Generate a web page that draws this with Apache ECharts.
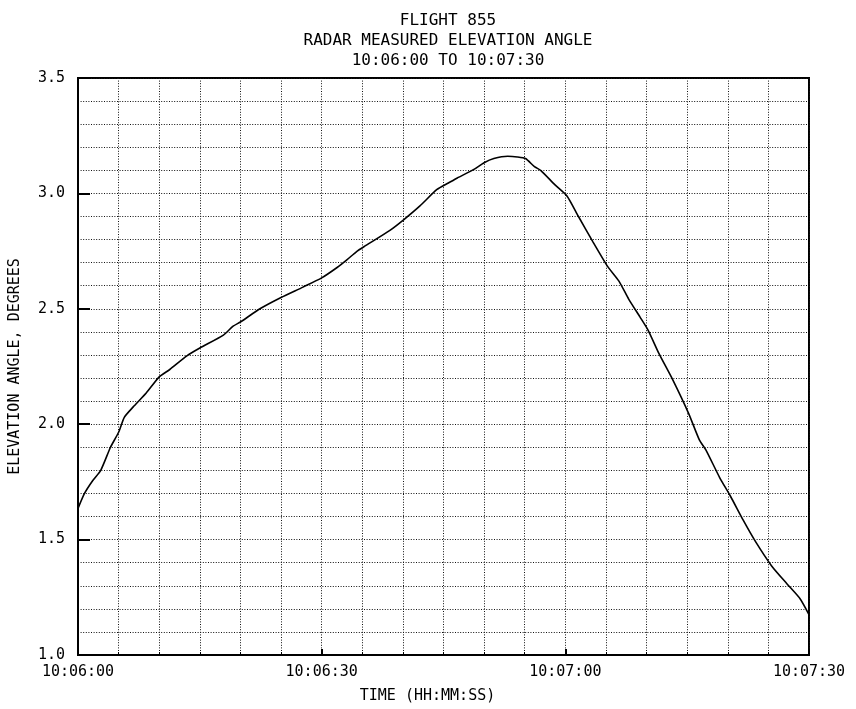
<!DOCTYPE html>
<html>
<head>
<meta charset="utf-8">
<script src="https://cdn.jsdelivr.net/npm/echarts@6/dist/echarts.min.js"></script>
<style>html,body{margin:0;padding:0;background:#fff}#c{width:856px;height:709px}</style>
</head>
<body>
<div id="c"></div>
<script>
// Time in seconds after 10:06:00
const timeSec = [0, 0.8, 1.8, 2.8, 4.0, 5.0, 5.7, 6.8, 8.4, 10.0, 11.3, 13.4, 15.0, 17.9, 19.1, 20.0,
  22.4, 25.0, 27.7, 30.0, 31.9, 33.1, 34.3, 35.2, 38.4, 40.2, 42.1, 44.2, 45.6, 46.7, 48.8, 50.0,
  51.2, 52.9, 54.1, 55.1, 56.2, 57.0, 58.7, 60.2, 61.6, 63.4, 65.2, 66.6, 67.8, 69.2, 70.2, 71.5,
  73.2, 75.2, 76.5, 77.3, 79.0, 80.3, 81.9, 83.4, 85.4, 87.3, 88.9, 90.0];
// Elevation angle, degrees
const elevation = [1.635, 1.70, 1.755, 1.80, 1.90, 1.965, 2.03, 2.075, 2.135, 2.205, 2.237, 2.296, 2.33, 2.386, 2.425, 2.443,
  2.50, 2.549, 2.594, 2.634, 2.679, 2.712, 2.748, 2.769, 2.84, 2.889, 2.946, 3.017, 3.045, 3.067, 3.105, 3.133,
  3.151, 3.161, 3.158, 3.151, 3.116, 3.099, 3.038, 2.989, 2.901, 2.79, 2.684, 2.62, 2.542, 2.464, 2.407, 2.308,
  2.194, 2.045, 1.932, 1.889, 1.769, 1.69, 1.584, 1.492, 1.386, 1.308, 1.244, 1.175];
const xTickSeconds = [0, 30, 60, 90];
const xTickLabels = ['10:06:00', '10:06:30', '10:07:00', '10:07:30'];
const titleLines = ['FLIGHT 855', 'RADAR MEASURED ELEVATION ANGLE', '10:06:00 TO 10:07:30'];

const FONT = 'DejaVu Sans Mono';
const dotted = { color: '#111', width: 1, type: [1, 1.6] };

const chart = echarts.init(document.getElementById('c'), null, { renderer: 'canvas' });
chart.setOption({
  animation: false,
  backgroundColor: '#fff',
  title: {
    text: titleLines.join('\n'),
    left: 443, top: 6, textAlign: 'center',
    textStyle: { fontFamily: FONT, fontSize: 16, fontWeight: 'normal', color: '#000', lineHeight: 20 }
  },
  grid: { left: 77, right: 47, top: 78, bottom: 50, show: true, borderColor: '#000', borderWidth: 2, backgroundColor: 'transparent' },
  xAxis: {
    type: 'value', min: 0, max: 90, interval: 30,
    name: 'TIME (HH:MM:SS)', nameLocation: 'middle', nameGap: 34,
    nameTextStyle: { fontFamily: FONT, fontSize: 15, color: '#000', padding: [0, 32, 0, 0] },
    axisLine: { show: true, lineStyle: { color: '#000', width: 2 } },
    axisTick: { show: true, inside: true, length: 6, lineStyle: { color: '#000', width: 2 } },
    minorTick: { show: true, splitNumber: 6, length: 3, lineStyle: { color: '#000' } },
    axisLabel: {
      margin: 10, fontFamily: FONT, fontSize: 15, color: '#000', showMinLabel: true, showMaxLabel: true,
      formatter: v => { const i = xTickSeconds.indexOf(v); return i >= 0 ? xTickLabels[i] : ''; }
    },
    splitLine: { show: true, lineStyle: dotted },
    minorSplitLine: { show: true, lineStyle: dotted }
  },
  yAxis: {
    type: 'value', min: 1.0, max: 3.5, interval: 0.5,
    name: 'ELEVATION ANGLE, DEGREES', nameLocation: 'middle', nameGap: 55, nameRotate: 90,
    nameTextStyle: { fontFamily: FONT, fontSize: 15, color: '#000' },
    axisLine: { show: true, lineStyle: { color: '#000', width: 2 } },
    axisTick: { show: true, inside: true, length: 12, lineStyle: { color: '#000', width: 2 } },
    minorTick: { show: false, splitNumber: 5 },
    axisLabel: { margin: 13, fontFamily: FONT, fontSize: 15, color: '#000', formatter: v => v.toFixed(1) },
    splitLine: { show: true, lineStyle: dotted },
    minorSplitLine: { show: true, lineStyle: dotted }
  },
  series: [{
    type: 'line',
    data: timeSec.map((t, i) => [t, elevation[i]]),
    showSymbol: false,
    smooth: 0.2,
    lineStyle: { color: '#000', width: 1.6 }
  }]
});
</script>
</body>
</html>
